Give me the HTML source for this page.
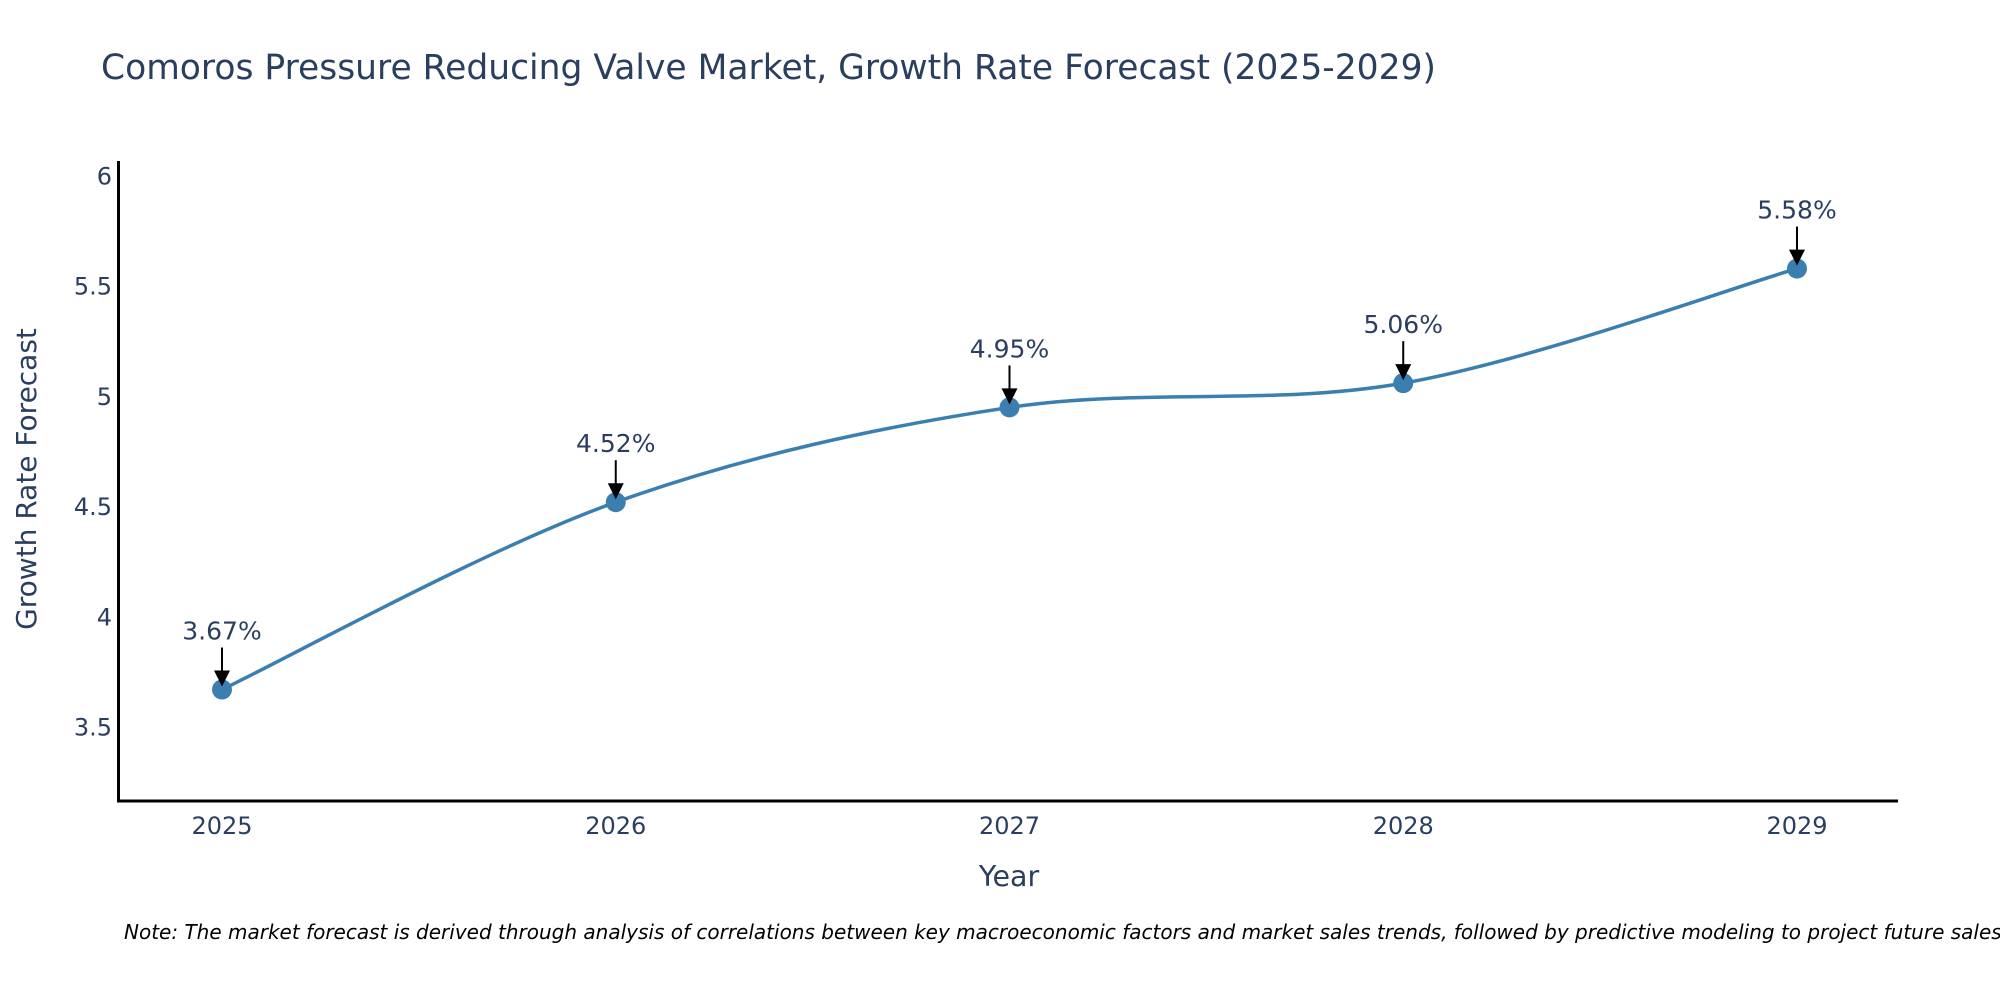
<!DOCTYPE html>
<html><head><meta charset="utf-8">
<style>
html,body{margin:0;padding:0;background:#fff;}
svg{display:block;font-family:"DejaVu Sans","Liberation Sans",sans-serif;}
</style></head>
<body>
<svg id="chart" width="2000" height="1000" viewBox="0 0 2000 1000" xmlns="http://www.w3.org/2000/svg">
<text x="101" y="79" font-size="34.5" fill="#2a3f5f">Comoros Pressure Reducing Valve Market, Growth Rate Forecast (2025-2029)</text>
<g id="plot"></g>
<line x1="118.5" y1="161" x2="118.5" y2="802" stroke="#000" stroke-width="3"/>
<line x1="117" y1="801" x2="1898" y2="801" stroke="#000" stroke-width="3"/>
<text x="1009" y="886" font-size="28.5" fill="#2a3f5f" text-anchor="middle">Year</text>
<text x="0" y="0" font-size="28" fill="#2a3f5f" text-anchor="middle" transform="translate(36,479) rotate(-90)">Growth Rate Forecast</text>
<text x="124" y="939" font-size="20" font-style="italic" fill="#000">Note: The market forecast is derived through analysis of correlations between key macroeconomic factors and market sales trends, followed by predictive modeling to project future sales.</text>
</svg>
<script>
const years = [2025, 2026, 2027, 2028, 2029];
const growth = [3.67, 4.52, 4.95, 5.06, 5.58];
const yTicks = [3.5, 4, 4.5, 5, 5.5, 6];
const yTickLabels = ["3.5", "4", "4.5", "5", "5.5", "6"];

const NS = "http://www.w3.org/2000/svg";
const g = document.getElementById("plot");
function xS(i){ return 222 + i * 393.75; }
function yS(v){ return 727 - (v - 3.5) * 220.4; }
function mk(tag, attrs){ const e = document.createElementNS(NS, tag); for (const k in attrs) e.setAttribute(k, attrs[k]); g.appendChild(e); return e; }

yTicks.forEach((t, i) => {
  const e = mk("text", {x: 112, y: yS(t) + 8.5, "font-size": 24, fill: "#2a3f5f", "text-anchor": "end"});
  e.textContent = yTickLabels[i];
  
  
});
years.forEach((yr, i) => {
  const e = mk("text", {x: xS(i), y: 834, "font-size": 24, fill: "#2a3f5f", "text-anchor": "middle"});
  e.textContent = String(yr);
  
  
});

const pts = growth.map((v, i) => [xS(i), yS(v)]);
let d = "M" + pts[0][0] + "," + pts[0][1];
for (let i = 0; i < pts.length - 1; i++) {
  const p0 = pts[Math.max(0, i - 1)], p1 = pts[i], p2 = pts[i + 1], p3 = pts[Math.min(pts.length - 1, i + 2)];
  const t = 1/6;
  const c1 = [p1[0] + (p2[0] - p0[0]) * t, p1[1] + (p2[1] - p0[1]) * t];
  const c2 = [p2[0] - (p3[0] - p1[0]) * t, p2[1] - (p3[1] - p1[1]) * t];
  d += " C" + c1 + " " + c2 + " " + p2;
}
const line = mk("path", {d: d, fill: "none", stroke: "#3b7fb0", "stroke-width": 3.5});



pts.forEach((p, i) => {
  const c = mk("circle", {cx: p[0], cy: p[1], r: 10, fill: "#3b7fb0"});
  
  
  const l = mk("line", {x1: p[0], y1: p[1] - 42, x2: p[0], y2: p[1] - 18, stroke: "#000", "stroke-width": 2});
  
  
  const h = mk("polygon", {points: (p[0]-8)+","+(p[1]-19)+" "+(p[0]+8)+","+(p[1]-19)+" "+p[0]+","+(p[1]-3), fill: "#000"});
  
  
  const tx = mk("text", {x: p[0], y: p[1] - 50, "font-size": 25, fill: "#2a3f5f", "text-anchor": "middle"});
  tx.textContent = growth[i].toFixed(2) + "%";
  
  
});
</script>
</body></html>
